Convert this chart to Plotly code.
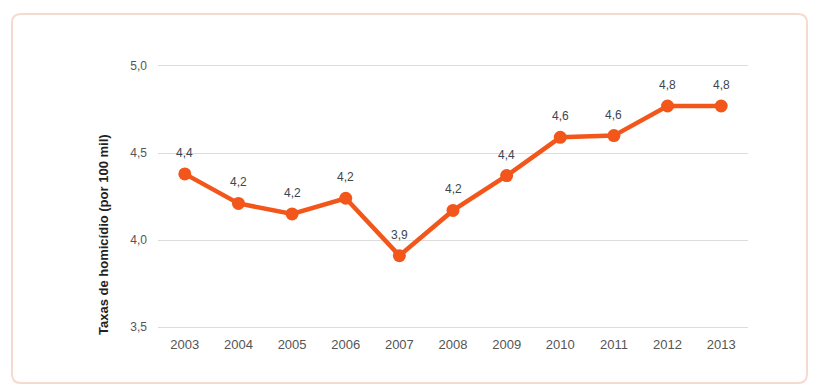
import plotly.graph_objects as go

years = ["2003", "2004", "2005", "2006", "2007", "2008", "2009", "2010", "2011", "2012", "2013"]
rates = [4.38, 4.21, 4.15, 4.24, 3.91, 4.17, 4.37, 4.59, 4.60, 4.77, 4.77]
labels = ["4,4", "4,2", "4,2", "4,2", "3,9", "4,2", "4,4", "4,6", "4,6", "4,8", "4,8"]
y_ticks = [3.5, 4.0, 4.5, 5.0]
y_title = "Taxas de homicídio (por 100 mil)"

OFF = 8  # default page body margin
W, H = 818 - OFF, 387 - OFF
ML, MR, MT, MB = 158 - OFF, 70, 66 - OFF, 60
PW, PH = W - ML - MR, H - MT - MB

def px_x(x):
    return (x - OFF - ML) / PW

def px_y(y):
    return (H - MB - (y - OFF)) / PH

# rounded border box (page pixels -> paper)
x0, x1, y0, y1, r = 12, 807, 14, 383, 9
path = (
    f"M {px_x(x0 + r)},{px_y(y0)} L {px_x(x1 - r)},{px_y(y0)} "
    f"Q {px_x(x1)},{px_y(y0)} {px_x(x1)},{px_y(y0 + r)} "
    f"L {px_x(x1)},{px_y(y1 - r)} "
    f"Q {px_x(x1)},{px_y(y1)} {px_x(x1 - r)},{px_y(y1)} "
    f"L {px_x(x0 + r)},{px_y(y1)} "
    f"Q {px_x(x0)},{px_y(y1)} {px_x(x0)},{px_y(y1 - r)} "
    f"L {px_x(x0)},{px_y(y0 + r)} "
    f"Q {px_x(x0)},{px_y(y0)} {px_x(x0 + r)},{px_y(y0)} Z"
)

ORANGE = "#f2561a"

fig = go.Figure()
fig.add_trace(go.Scatter(
    x=years, y=rates, mode="lines+markers",
    line=dict(color=ORANGE, width=4.5),
    marker=dict(color=ORANGE, size=13),
    cliponaxis=False, showlegend=False,
))

annotations = [dict(x=i, y=yv, xref="x", yref="y", text=t, showarrow=False,
                    yshift=21, xanchor="center", yanchor="middle",
                    font=dict(size=12, color="#3d4550"))
               for i, (yv, t) in enumerate(zip(rates, labels))]
annotations.append(dict(text=f"<b>{y_title}</b>", xref="paper", yref="paper",
                        x=px_x(103), y=px_y(235), textangle=-90, showarrow=False,
                        xanchor="center", yanchor="middle",
                        font=dict(size=13, color="#222")))

fig.update_layout(
    width=W, height=H,
    margin=dict(l=ML, r=MR, t=MT, b=MB),
    paper_bgcolor="white", plot_bgcolor="white",
    separators=",.",
    font=dict(family="Liberation Sans, Arial, sans-serif", size=12, color="#555"),
    xaxis=dict(type="category", range=[-0.5, 10.5], showgrid=False, zeroline=False,
               showline=True, mirror=True, linecolor="#dcdcdc", linewidth=1,
               ticks="", ticklabelstandoff=5, tickfont=dict(size=13, color="#555")),
    yaxis=dict(range=[3.5, 5.0], tickvals=y_ticks, tickformat=".1f",
               showgrid=True, gridcolor="#dcdcdc", gridwidth=1, zeroline=False,
               showline=False, ticks="", ticklabelstandoff=10,
               tickfont=dict(size=12, color="#555")),
    shapes=[dict(type="path", xref="paper", yref="paper", path=path,
                 line=dict(color="#f6d9cf", width=2), fillcolor="rgba(0,0,0,0)", layer="below")],
    annotations=annotations,
)

fig.write_html("out.html")
